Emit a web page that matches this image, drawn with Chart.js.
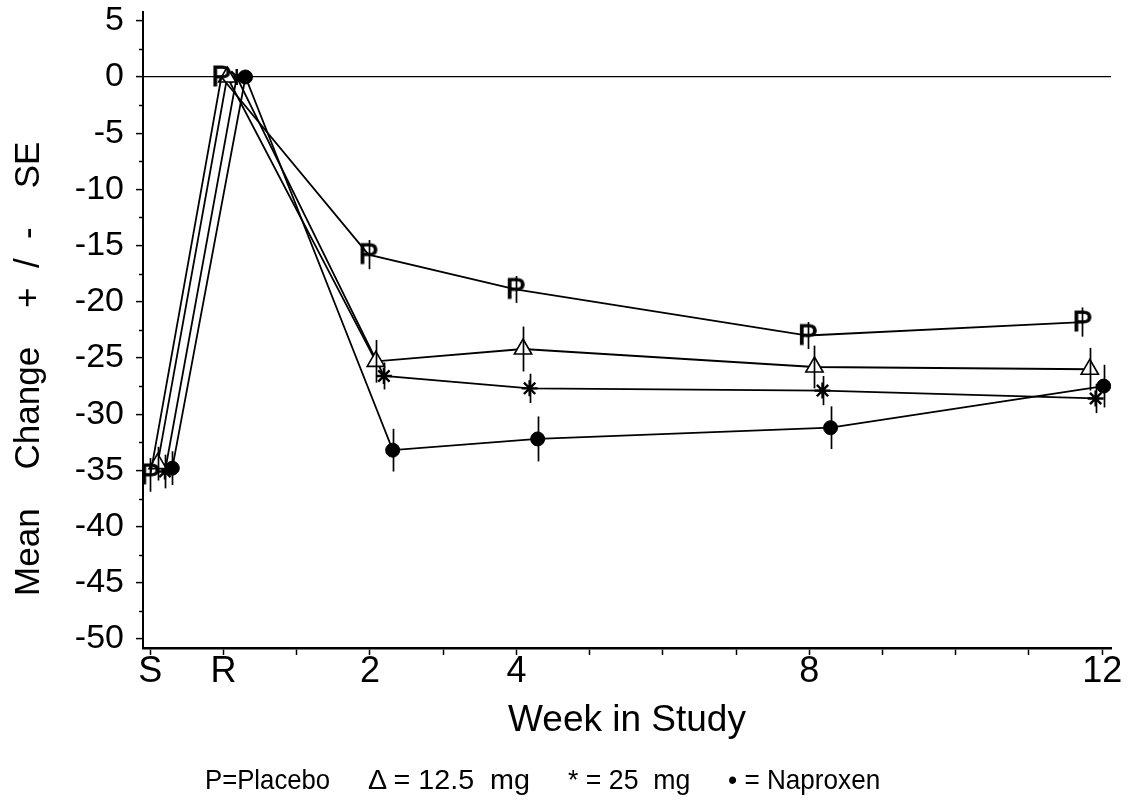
<!DOCTYPE html>
<html>
<head>
<meta charset="utf-8">
<script src="https://cdn.jsdelivr.net/npm/chart.js@4.4.1/dist/chart.umd.min.js"></script>
<style>
  html, body { margin: 0; padding: 0; background: #fff; }
  #wrap { position: relative; width: 1131px; height: 805px; }
  #legend span {
    position: absolute; top: 764px;
    font-family: "Liberation Sans Narrow", "Arial Narrow", "Liberation Sans", sans-serif;
    font-size: 28px; color: #000; white-space: pre;
    transform-origin: left center;
  }
</style>
</head>
<body>
<div id="wrap">
  <canvas id="chart" width="1131" height="805"></canvas>
  <div id="legend">
    <span style="left:205px" data-w="125">P=Placebo</span>
    <span style="left:368px" data-w="162">&#916; = 12.5  mg</span>
    <span style="left:568px" data-w="122">* = 25  mg</span>
    <span style="left:728px" data-w="152">&#8226; = Naproxen</span>
  </div>
</div>
<script>
// ---- data ----
// x axis: S = screening (-1), R = randomisation (0), then weeks
const tickWeeks = [-1, 0, 2, 4, 8, 12];
const tickNames = ['S', 'R', '2', '4', '8', '12'];
const xTickWeeks = [-1, 0, 1, 2, 3, 4, 5, 6, 7, 8, 9, 10, 11, 12];
const yMajor = [-50, -45, -40, -35, -30, -25, -20, -15, -10, -5, 0, 5];
const yMinor = [-47.5, -42.5, -37.5, -32.5, -27.5, -22.5, -17.5, -12.5, -7.5, -2.5, 2.5];

// each group is nudged sideways a little in the original so the symbols don't sit on top of each other
const placeboWeek  = [-1.0, -0.03, 1.98, 3.99, 7.98, 11.73];
const mg125Week    = [-0.9,  0.05, 2.08, 4.09, 8.07, 11.83];
const mg25Week     = [-0.8,  0.18, 2.19, 4.18, 8.18, 11.91];
const naproxenWeek = [-0.7,  0.30, 2.31, 4.29, 8.29, 12.02];

const placeboMean  = [-35.4, 0, -15.8, -18.9, -23.0, -21.8];
const mg125Mean    = [-34.4, 0, -25.3, -24.2, -25.8, -26.0];
const mg25Mean     = [-35.1, 0, -26.6, -27.7, -27.9, -28.6];
const naproxenMean = [-34.8, 0, -33.2, -32.2, -31.2, -27.5];

const placeboSE  = [1.5, 0, 1.3, 1.2, 1.2, 1.3];
const mg125SE    = [1.5, 0, 1.9, 2.0, 1.9, 1.9];
const mg25SE     = [1.5, 0, 1.2, 1.3, 1.3, 1.3];
const naproxenSE = [1.5, 0, 1.9, 2.0, 1.9, 1.9];

const FONT = '"Liberation Sans", Arial, sans-serif';

function pairs(xs, ys) {
    return xs.map((x, i) => ({ x: x, y: ys[i] }));
}

// the placebo symbol is the letter P
function letterMarker(ch) {
    const c = document.createElement('canvas');
    c.width = 30; c.height = 30;
    const g = c.getContext('2d');
    g.font = '30px ' + FONT;
    g.textAlign = 'center';
    g.textBaseline = 'middle';
    g.fillStyle = '#000';
    g.strokeStyle = '#000';
    g.lineWidth = 0.9;
    g.fillText(ch, 15, 16);
    g.strokeText(ch, 15, 16);
    return c;
}

const errorBars = {
    id: 'errorBars',
    afterDatasetsDraw(chart) {
        const { ctx, scales: { x, y } } = chart;
        ctx.save();
        ctx.strokeStyle = '#000';
        ctx.lineWidth = 1.7;
        chart.data.datasets.forEach(ds => {
            ds.se.forEach((e, j) => {
                if (!e) return;
                const p = ds.data[j];
                const px = Math.round(x.getPixelForValue(p.x)) + 0.5;
                ctx.beginPath();
                ctx.moveTo(px, y.getPixelForValue(p.y + e));
                ctx.lineTo(px, y.getPixelForValue(p.y - e));
                ctx.stroke();
            });
        });
        ctx.restore();
    }
};

const minorTicks = {
    id: 'minorTicks',
    afterDraw(chart) {
        const { ctx, scales: { y } } = chart;
        ctx.save();
        ctx.strokeStyle = '#000';
        ctx.lineWidth = 1.5;
        yMinor.forEach(v => {
            const py = Math.round(y.getPixelForValue(v)) + 0.5;
            ctx.beginPath();
            ctx.moveTo(y.right - 4, py);
            ctx.lineTo(y.right, py);
            ctx.stroke();
        });
        ctx.restore();
    }
};

const common = {
    type: 'line',
    borderColor: '#000',
    borderWidth: 1.8,
    tension: 0,
    fill: false,
    pointBorderColor: '#000'
};

new Chart(document.getElementById('chart'), {
    type: 'line',
    data: {
        datasets: [
            Object.assign({}, common, {
                label: 'Placebo',
                data: pairs(placeboWeek, placeboMean),
                se: placeboSE,
                pointStyle: letterMarker('P'),
                pointRadius: 10
            }),
            Object.assign({}, common, {
                label: '12.5 mg',
                data: pairs(mg125Week, mg125Mean),
                se: mg125SE,
                pointStyle: 'triangle',
                pointRadius: 10,
                pointBackgroundColor: '#fff',
                pointBorderWidth: 1.6
            }),
            Object.assign({}, common, {
                label: '25 mg',
                data: pairs(mg25Week, mg25Mean),
                se: mg25SE,
                pointStyle: 'star',
                pointRadius: 8,
                pointBorderWidth: 2.4
            }),
            Object.assign({}, common, {
                label: 'Naproxen',
                data: pairs(naproxenWeek, naproxenMean),
                se: naproxenSE,
                pointStyle: 'circle',
                pointRadius: 7,
                pointBackgroundColor: '#000',
                pointBorderWidth: 1
            })
        ]
    },
    options: {
        responsive: false,
        animation: false,
        layout: { padding: { top: 10, right: 20, left: 0, bottom: 55 } },
        plugins: { legend: { display: false }, tooltip: { enabled: false } },
        scales: {
            x: {
                type: 'linear',
                min: -1.1,
                max: 12.12,
                afterBuildTicks: s => { s.ticks = xTickWeeks.map(v => ({ value: v })); },
                afterFit: s => { s.height = 102; s.paddingRight = 0; s.paddingLeft = 0; },
                ticks: {
                    autoSkip: false,
                    maxRotation: 0,
                    color: '#000',
                    padding: -5,
                    font: { family: FONT, size: 36 },
                    callback: v => {
                        const i = tickWeeks.indexOf(v);
                        return i === -1 ? '' : tickNames[i];
                    }
                },
                grid: { drawOnChartArea: false, tickLength: 7, tickColor: '#000', tickWidth: 1.5 },
                border: { display: true, color: '#000', width: 2.5 },
                title: {
                    display: true,
                    text: 'Week in Study',
                    color: '#000',
                    font: { family: FONT, size: 37 },
                    padding: { top: 0, bottom: 7 }
                }
            },
            y: {
                type: 'linear',
                min: -50.8,
                max: 5.8,
                afterBuildTicks: s => { s.ticks = yMajor.map(v => ({ value: v })); },
                afterFit: s => { s.width = 143; s.paddingTop = 0; s.paddingBottom = 0; },
                ticks: {
                    autoSkip: false,
                    color: '#000',
                    padding: 12,
                    font: { family: FONT, size: 34 }
                },
                grid: {
                    drawOnChartArea: true,
                    color: c => (c.tick && c.tick.value === 0) ? '#000' : 'rgba(0,0,0,0)',
                    lineWidth: 1.2,
                    tickLength: 7,
                    tickColor: '#000',
                    tickWidth: 1.5
                },
                border: { display: true, color: '#000', width: 2 },
                title: {
                    display: true,
                    text: 'Mean    Change    +  /  -    SE        ',
                    color: '#000',
                    font: { family: FONT, size: 35 },
                    padding: { top: 8, bottom: 0 }
                }
            }
        }
    },
    plugins: [errorBars, minorTicks]
});

// squeeze the legend entries to the narrow type of the original
document.querySelectorAll('#legend span').forEach(s => {
    const w = +s.dataset.w;
    s.style.transform = 'scaleX(' + (w / s.offsetWidth).toFixed(3) + ')';
});
</script>
</body>
</html>
